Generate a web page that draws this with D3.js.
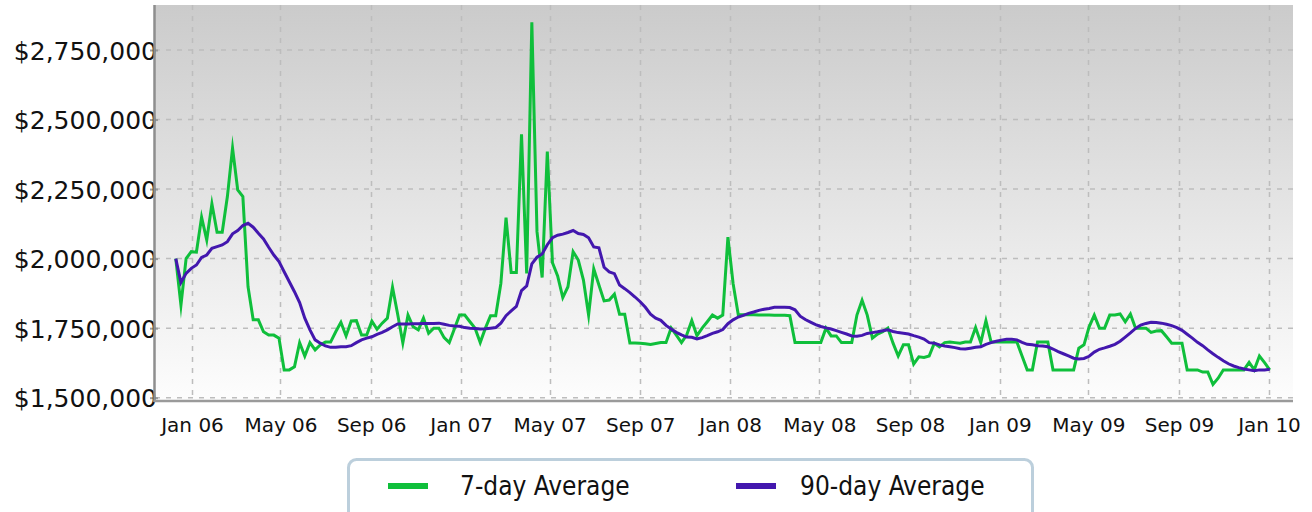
<!DOCTYPE html>
<html>
<head>
<meta charset="utf-8">
<script src="https://cdn.jsdelivr.net/npm/d3@7"></script>
<style>
  html, body { margin: 0; padding: 0; background: #ffffff; }
  svg { display: block; }
</style>
</head>
<body>
<svg id="chart" width="1312" height="512"></svg>
<script>
// ---------------- DATA ----------------
// Weekly observation dates
const weeks = [
"2005-12-10","2005-12-17","2005-12-24","2005-12-31",
"2006-01-07","2006-01-14","2006-01-21","2006-01-28","2006-02-04","2006-02-11","2006-02-18","2006-02-25","2006-03-04","2006-03-11","2006-03-18","2006-03-25","2006-04-01","2006-04-08","2006-04-15","2006-04-22","2006-04-29","2006-05-06","2006-05-13","2006-05-20","2006-05-27","2006-06-03","2006-06-10","2006-06-17","2006-06-24","2006-07-01","2006-07-08","2006-07-15","2006-07-22","2006-07-29","2006-08-05","2006-08-12","2006-08-19","2006-08-26","2006-09-02","2006-09-09","2006-09-16","2006-09-23","2006-09-30","2006-10-07","2006-10-14","2006-10-21","2006-10-28","2006-11-04","2006-11-11","2006-11-18","2006-11-25","2006-12-02","2006-12-09","2006-12-16","2006-12-23","2006-12-30",
"2007-01-06","2007-01-13","2007-01-20","2007-01-27","2007-02-03","2007-02-10","2007-02-17","2007-02-24","2007-03-03","2007-03-10","2007-03-17","2007-03-24","2007-03-31","2007-04-07","2007-04-14","2007-04-21","2007-04-28","2007-05-05","2007-05-12","2007-05-19","2007-05-26","2007-06-02","2007-06-09","2007-06-16","2007-06-23","2007-06-30","2007-07-07","2007-07-14","2007-07-21","2007-07-28","2007-08-04","2007-08-11","2007-08-18","2007-08-25","2007-09-01","2007-09-08","2007-09-15","2007-09-22","2007-09-29","2007-10-06","2007-10-13","2007-10-20","2007-10-27","2007-11-03","2007-11-10","2007-11-17","2007-11-24","2007-12-01","2007-12-08","2007-12-15","2007-12-22","2007-12-29",
"2008-01-05","2008-01-12","2008-01-19","2008-01-26","2008-02-02","2008-02-09","2008-02-16","2008-02-23","2008-03-01","2008-03-08","2008-03-15","2008-03-22","2008-03-29","2008-04-05","2008-04-12","2008-04-19","2008-04-26","2008-05-03","2008-05-10","2008-05-17","2008-05-24","2008-05-31","2008-06-07","2008-06-14","2008-06-21","2008-06-28","2008-07-05","2008-07-12","2008-07-19","2008-07-26","2008-08-02","2008-08-09","2008-08-16","2008-08-23","2008-08-30","2008-09-06","2008-09-13","2008-09-20","2008-09-27","2008-10-04","2008-10-11","2008-10-18","2008-10-25","2008-11-01","2008-11-08","2008-11-15","2008-11-22","2008-11-29","2008-12-06","2008-12-13","2008-12-20","2008-12-27",
"2009-01-03","2009-01-10","2009-01-17","2009-01-24","2009-01-31","2009-02-07","2009-02-14","2009-02-21","2009-02-28","2009-03-07","2009-03-14","2009-03-21","2009-03-28","2009-04-04","2009-04-11","2009-04-18","2009-04-25","2009-05-02","2009-05-09","2009-05-16","2009-05-23","2009-05-30","2009-06-06","2009-06-13","2009-06-20","2009-06-27","2009-07-04","2009-07-11","2009-07-18","2009-07-25","2009-08-01","2009-08-08","2009-08-15","2009-08-22","2009-08-29","2009-09-05","2009-09-12","2009-09-19","2009-09-26","2009-10-03","2009-10-10","2009-10-17","2009-10-24","2009-10-31","2009-11-07","2009-11-14","2009-11-21","2009-11-28","2009-12-05","2009-12-12","2009-12-19","2009-12-26",
"2010-01-02"
];

// 7-day average, thousands of dollars
const avg7 = [
 2000,1833,2000,2025,2023,2149,2067,2197,2095,2095,
 2223,2397,2247,2223,1899,1780,1780,1737,1725,1725,
 1714,1600,1600,1611,1698,1650,1698,1672,1690,1700,
 1700,1737,1771,1722,1776,1777,1725,1725,1775,1746,
 1768,1786,1897,1800,1697,1797,1755,1744,1786,1732,
 1750,1750,1716,1698,1748,1797,1797,1773,1750,1698,
 1750,1795,1795,1911,2147,1950,1950,2447,1947,2850,
 2097,1932,2385,1985,1938,1860,1899,2025,1995,1923,
 1797,1963,1905,1848,1851,1872,1800,1800,1697,1697,
 1696,1694,1691,1695,1698,1698,1751,1725,1698,1725,
 1777,1723,1750,1773,1797,1786,1797,2077,1911,1799,
 1798,1798,1798,1797,1797,1797,1796,1796,1796,1795,
 1698,1698,1698,1698,1698,1698,1750,1722,1722,1698,
 1698,1698,1797,1850,1797,1714,1729,1737,1750,1696,
 1650,1690,1690,1621,1647,1645,1650,1696,1683,1698,
 1700,1698,1696,1700,1700,1752,1698,1777,1700,1700,
 1700,1700,1700,1700,1650,1600,1600,1700,1700,1700,
 1600,1600,1600,1600,1600,1678,1690,1755,1797,1750,
 1750,1797,1797,1801,1773,1801,1750,1750,1750,1735,
 1740,1741,1719,1696,1696,1696,1600,1600,1600,1592,
 1592,1548,1570,1600,1600,1600,1600,1600,1627,1600,
 1650,1626,1600
];

// 90-day average, thousands of dollars
const avg90 = [
 2000,1914,1947,1965,1977,2004,2013,2037,2043,2049,
 2061,2089,2101,2119,2127,2113,2091,2071,2041,2013,
 1989,1953,1917,1881,1842,1786,1744,1708,1696,1686,
 1681,1681,1683,1683,1687,1698,1708,1714,1719,1728,
 1735,1744,1755,1765,1765,1765,1766,1766,1767,1767,
 1767,1768,1764,1760,1758,1757,1752,1750,1749,1747,
 1748,1750,1752,1768,1795,1812,1828,1885,1902,1981,
 2005,2017,2050,2075,2084,2088,2094,2101,2090,2087,
 2075,2042,2039,1969,1952,1946,1905,1892,1878,1862,
 1845,1825,1800,1786,1778,1760,1747,1735,1726,1718,
 1717,1711,1716,1723,1731,1737,1745,1766,1780,1790,
 1796,1803,1808,1814,1818,1821,1825,1825,1825,1824,
 1816,1793,1781,1772,1763,1756,1751,1747,1741,1735,
 1729,1722,1721,1724,1731,1734,1737,1741,1744,1738,
 1734,1732,1729,1723,1718,1711,1698,1696,1690,1686,
 1683,1680,1676,1675,1678,1681,1683,1692,1698,1703,
 1707,1710,1710,1708,1699,1692,1690,1687,1686,1683,
 1675,1666,1658,1650,1642,1639,1641,1649,1664,1674,
 1679,1685,1692,1703,1718,1733,1749,1761,1767,1771,
 1770,1768,1764,1759,1752,1742,1728,1714,1699,1687,
 1672,1658,1645,1633,1622,1614,1608,1603,1600,1597,
 1600,1600,1602
];

const UNIT = 1000;
const seriesNames = ["7-day Average", "90-day Average"];
const yTickValues = [1500000, 1750000, 2000000, 2250000, 2500000, 2750000];
const xDomain = ["2006-01-01", "2010-01-01"];
const xTickLabels = ["Jan 06","May 06","Sep 06","Jan 07","May 07","Sep 07","Jan 08","May 08","Sep 08","Jan 09","May 09","Sep 09","Jan 10"];

// ---------------- STYLE / LAYOUT ----------------
const colors = ["#0fbf3b", "#4317ae"];
const plot = { left: 155, right: 1293, top: 5, bottom: 401 };

const parse = d3.timeParse("%Y-%m-%d");
const dates = weeks.map(parse);

const x = d3.scaleTime()
  .domain(xDomain.map(parse))
  .range([192, 1269]);

const y = d3.scaleLinear()
  .domain([1500000, 2750000])
  .range([397.7, 50]);

const svg = d3.select("#chart");
const defs = svg.append("defs");

const grad = defs.append("linearGradient")
  .attr("id", "bg").attr("x1", 0).attr("y1", 0).attr("x2", 0).attr("y2", 1);
grad.append("stop").attr("offset", "0%").attr("stop-color", "#cbcbcb");
grad.append("stop").attr("offset", "100%").attr("stop-color", "#fdfdfd");

defs.append("clipPath").attr("id", "clip")
  .append("rect")
  .attr("x", plot.left).attr("y", plot.top)
  .attr("width", plot.right - plot.left).attr("height", plot.bottom - plot.top);

// plot background
svg.append("rect")
  .attr("x", plot.left).attr("y", plot.top)
  .attr("width", plot.right - plot.left).attr("height", plot.bottom - plot.top)
  .attr("fill", "url(#bg)");

// x ticks (every 4 months)
const xTicks = x.ticks(d3.timeMonth.every(4));
const fmtX = d3.timeFormat("%b %y");

// vertical grid
svg.append("g").selectAll("line").data(xTicks).join("line")
  .attr("x1", d => Math.round(x(d)) + 0.5).attr("x2", d => Math.round(x(d)) + 0.5)
  .attr("y1", plot.top).attr("y2", plot.bottom)
  .attr("stroke", "#bdbdbd").attr("stroke-width", 1.5)
  .attr("stroke-dasharray", "5,6");

// horizontal grid
svg.append("g").selectAll("line").data(yTickValues).join("line")
  .attr("x1", plot.left).attr("x2", plot.right)
  .attr("y1", d => y(d)).attr("y2", d => y(d))
  .attr("stroke", "#bdbdbd").attr("stroke-width", 1.5)
  .attr("stroke-dasharray", "5,6");

// y axis via d3.axisLeft
const fmtY = d => "$" + d3.format(",")(d);
const yAxis = svg.append("g")
  .attr("transform", `translate(${plot.left},0)`)
  .call(d3.axisLeft(y).tickValues(yTickValues).tickFormat(fmtY).tickSize(6).tickPadding(-5));
yAxis.select(".domain").remove();
yAxis.selectAll(".tick line").attr("stroke", "#9a9a9a").attr("stroke-width", 2).attr("x2", 3).attr("x1", -5);
yAxis.selectAll(".tick text")
  .attr("font-family", "'DejaVu Sans', Verdana, sans-serif")
  .attr("font-size", 25).attr("fill", "#111")
  .attr("x", 2).attr("dy", "0.36em");

// x axis via d3.axisBottom
const xAxis = svg.append("g")
  .attr("transform", `translate(0,${plot.bottom})`)
  .call(d3.axisBottom(x).tickValues(xTicks).tickFormat((d, i) => xTickLabels[i] || fmtX(d)).tickSize(0).tickPadding(31));
xAxis.select(".domain").remove();
xAxis.selectAll(".tick text")
  .attr("font-family", "'DejaVu Sans', Verdana, sans-serif")
  .attr("font-size", 20).attr("fill", "#111").attr("dy", "0");

// axis lines
svg.append("line")
  .attr("x1", plot.left - 0.5).attr("x2", plot.left - 0.5)
  .attr("y1", plot.top).attr("y2", plot.bottom + 1)
  .attr("stroke", "#8e8e8e").attr("stroke-width", 2.5);
svg.append("line")
  .attr("x1", plot.left - 1.5).attr("x2", plot.right)
  .attr("y1", plot.bottom).attr("y2", plot.bottom)
  .attr("stroke", "#9a9a9a").attr("stroke-width", 2.5);

// lines
const lineGen = d3.line()
  .x(d => x(d[0]))
  .y(d => y(d[1] * UNIT));

const lines = svg.append("g").attr("clip-path", "url(#clip)");
[avg7, avg90].forEach((vals, i) => {
  lines.append("path")
    .datum(vals.map((v, j) => [dates[j], v]))
    .attr("fill", "none")
    .attr("stroke", colors[i])
    .attr("stroke-width", 3)
    .attr("stroke-linejoin", "miter")
    .attr("stroke-miterlimit", 10)
    .attr("d", lineGen);
});

// legend
const lg = svg.append("g");
lg.append("rect")
  .attr("x", 348.5).attr("y", 459.5).attr("width", 684).attr("height", 62)
  .attr("rx", 8).attr("ry", 8)
  .attr("fill", "#ffffff").attr("stroke", "#bccfdc").attr("stroke-width", 3);
const legendItems = [
  { name: seriesNames[0], color: colors[0], sx: 388, tx: 460 },
  { name: seriesNames[1], color: colors[1], sx: 736, tx: 800 }
];
legendItems.forEach(it => {
  lg.append("line")
    .attr("x1", it.sx).attr("x2", it.sx + 40)
    .attr("y1", 486).attr("y2", 486)
    .attr("stroke", it.color).attr("stroke-width", 6);
  lg.append("text")
    .attr("x", it.tx).attr("y", 495)
    .attr("font-family", "'DejaVu Sans Condensed', 'DejaVu Sans', sans-serif")
    .attr("font-stretch", "condensed")
    .attr("font-size", 26).attr("fill", "#111")
    .text(it.name);
});
</script>
</body>
</html>
